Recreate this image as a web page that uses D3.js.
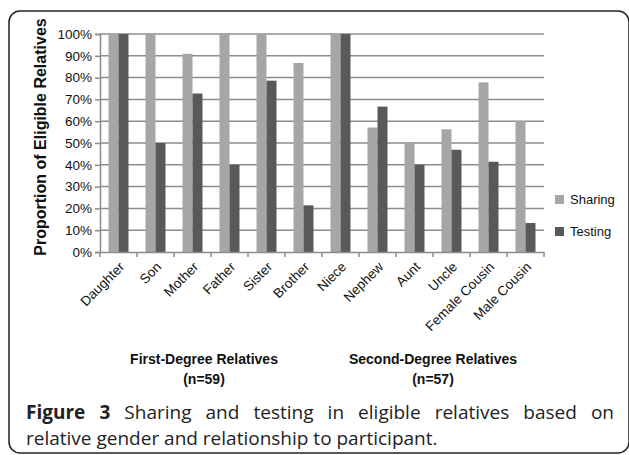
<!DOCTYPE html>
<html>
<head>
<meta charset="utf-8">
<script src="https://cdn.jsdelivr.net/npm/d3@7"></script>
<style>
  body { margin: 0; background: #fff; }
  svg { display: block; }
  text { font-family: "Liberation Sans", Arial, sans-serif; fill: #111; }
  .caption text { font-family: "Open Sans", "Noto Sans", sans-serif; fill: #222; }
</style>
</head>
<body>
<div id="chart"></div>
<script>
const categories = ["Daughter", "Son", "Mother", "Father", "Sister", "Brother",
  "Niece", "Nephew", "Aunt", "Uncle", "Female Cousin", "Male Cousin"]
const sharing = [100, 100, 90.9, 100, 100, 86.7, 100, 57.1, 50, 56.3, 77.8, 60]
const testing = [100, 50, 72.7, 40, 78.6, 21.4, 100, 66.7, 40, 46.9, 41.4, 13.3]
const seriesNames = ["Sharing", "Testing"]
const yTicks = [0, 10, 20, 30, 40, 50, 60, 70, 80, 90, 100]
const groupNames = ["First-Degree Relatives", "Second-Degree Relatives"]
const groupCounts = ["(n=59)", "(n=57)"]
const captionBold = "Figure 3"
const captionLine1 = " Sharing and testing in eligible relatives based on"
const captionLine2 = "relative gender and relationship to participant."

const W = 629, H = 455
const margin = { top: 34, left: 100, right: 85, bottom: 203 }
const width = W - margin.left - margin.right
const height = H - margin.top - margin.bottom
const colors = { Sharing: "#a6a6a6", Testing: "#595959" }

const svg = d3.select("#chart").append("svg")
  .attr("width", W)
  .attr("height", H)

// frame round the figure
svg.append("rect")
  .attr("x", 9).attr("y", 11)
  .attr("width", 620).attr("height", 442)
  .attr("rx", 11)
  .attr("fill", "none")
  .attr("stroke", "#222")
  .attr("stroke-width", 1.5)

const g = svg.append("g")
  .attr("transform", "translate(" + margin.left + "," + margin.top + ")")

const x = d3.scaleBand().domain(categories).range([0, width])
const x1 = d3.scaleBand().domain(seriesNames).range([0, x.bandwidth() * 0.54])
const y = d3.scaleLinear().domain([0, 100]).range([height, 0])

// gridlines
g.append("g")
  .selectAll("line")
  .data(yTicks.filter(d => d > 0))
  .join("line")
    .attr("x1", 0).attr("x2", width)
    .attr("y1", d => y(d)).attr("y2", d => y(d))
    .attr("stroke", "#8c8c8c")
    .attr("stroke-width", 1.5)

// bars
const data = categories.map((c, i) => ({ cat: c, Sharing: sharing[i], Testing: testing[i] }))
const off = (x.bandwidth() - x1.range()[1]) / 2
g.append("g")
  .selectAll("g")
  .data(data)
  .join("g")
    .attr("transform", d => "translate(" + (x(d.cat) + off) + ",0)")
  .selectAll("rect")
  .data(d => seriesNames.map(s => ({ s: s, v: d[s] })))
  .join("rect")
    .attr("x", d => x1(d.s))
    .attr("width", x1.bandwidth())
    .attr("y", d => y(d.v))
    .attr("height", d => height - y(d.v))
    .attr("fill", d => colors[d.s])

// y axis
const yAxis = g.append("g")
  .call(d3.axisLeft(y).tickValues(yTicks).tickFormat(d => d + "%").tickSize(5).tickPadding(3))
yAxis.select(".domain").attr("stroke", "#8c8c8c").attr("stroke-width", 1.5)
yAxis.selectAll(".tick line").attr("stroke", "#8c8c8c").attr("stroke-width", 1.5)
yAxis.selectAll(".tick text")
  .attr("font-family", "Liberation Sans, Arial, sans-serif")
  .attr("font-size", 13.5).attr("fill", "#111")

// x axis
const xAxis = g.append("g")
  .attr("transform", "translate(0," + height + ")")
  .call(d3.axisBottom(x).tickSize(0).tickFormat(""))
xAxis.select(".domain").attr("stroke", "#8c8c8c").attr("stroke-width", 1.5)
g.append("g")
  .attr("transform", "translate(0," + height + ")")
  .selectAll("line")
  .data(categories.map(c => x(c)).concat([width]))
  .join("line")
    .attr("x1", d => d).attr("x2", d => d)
    .attr("y1", 0).attr("y2", 5)
    .attr("stroke", "#8c8c8c")
    .attr("stroke-width", 1.5)

g.append("g")
  .selectAll("text")
  .data(categories)
  .join("text")
    .attr("transform", d => "translate(" + (x(d) + x.bandwidth() / 2) + "," + (height + 9) + ") rotate(-45)")
    .attr("text-anchor", "end")
    .attr("dy", "0.7em")
    .attr("font-size", 13.5)
    .text(d => d)

// y title
svg.append("text")
  .attr("transform", "translate(46,137) rotate(-90)")
  .attr("text-anchor", "middle")
  .attr("font-size", 16)
  .attr("font-weight", "bold")
  .text("Proportion of Eligible Relatives")

// group labels under the axis
const groupX = [204, 433]
groupNames.forEach((name, i) => {
  svg.append("text")
    .attr("x", groupX[i]).attr("y", 364)
    .attr("text-anchor", "middle")
    .attr("font-size", 14).attr("font-weight", "bold")
    .text(name)
  svg.append("text")
    .attr("x", groupX[i]).attr("y", 384)
    .attr("text-anchor", "middle")
    .attr("font-size", 14).attr("font-weight", "bold")
    .text(groupCounts[i])
})

// legend
const legend = svg.append("g")
  .selectAll("g")
  .data(seriesNames)
  .join("g")
    .attr("transform", (d, i) => "translate(555," + (195 + i * 32) + ")")
legend.append("rect")
  .attr("width", 9).attr("height", 9)
  .attr("fill", d => colors[d])
legend.append("text")
  .attr("x", 15).attr("y", 4.5).attr("dy", "0.35em")
  .attr("font-size", 13)
  .text(d => d)

// caption, first line justified
const cap = svg.append("g").attr("class", "caption")
const t1 = cap.append("text")
  .attr("x", 26).attr("y", 419)
  .attr("font-size", 19)
t1.append("tspan").attr("font-weight", "bold").text(captionBold)
t1.append("tspan").text(captionLine1)
const w1 = t1.node().getComputedTextLength()
const gaps = (captionBold + captionLine1).split(" ").length - 1
t1.attr("word-spacing", Math.max(0, (614 - 26 - w1) / gaps))

cap.append("text")
  .attr("x", 26).attr("y", 445)
  .attr("font-size", 19)
  .text(captionLine2)
</script>
</body>
</html>
